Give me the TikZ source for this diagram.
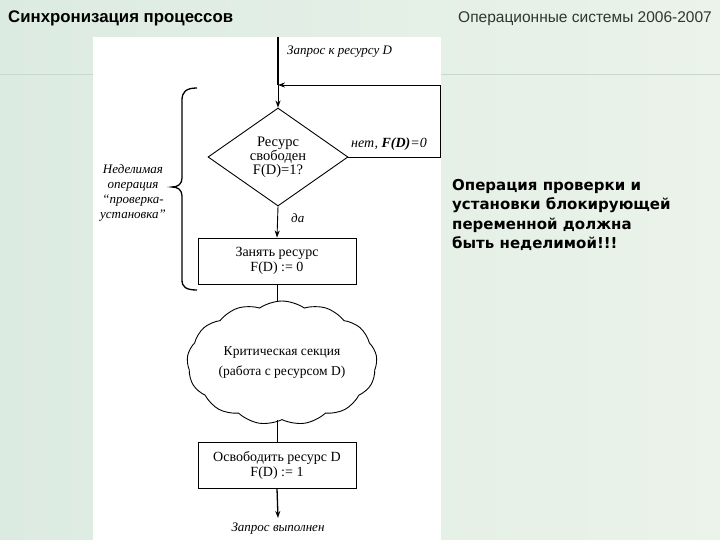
\documentclass[tikz,border=0pt]{standalone}
\usepackage{fontspec}
\setmainfont{Liberation Serif}
\newfontfamily\hdrfont{Liberation Sans}
\newfontfamily\notefont{DejaVu Sans}
\usetikzlibrary{shapes.geometric,shapes.symbols,arrows.meta}
\definecolor{bgA}{HTML}{DCEBE2}
\definecolor{bgB}{HTML}{EBF3EA}
\definecolor{hdrgray}{HTML}{2E382F}
\definecolor{tline}{HTML}{C8D8CE}
\tikzset{
  flow/.style={line width=0.9pt},
  arr/.style={-{Stealth[length=7pt,width=5pt]}},
  boxnode/.style={draw, line width=0.9pt, minimum width=158pt, minimum height=46pt, inner sep=0pt, align=center, font=\fontsize{14}{15}\selectfont},
  lbl/.style={font=\fontsize{13}{15}\selectfont\itshape, inner sep=0pt},
}
\begin{document}
\begin{tikzpicture}[x=1pt,y=-1pt]
\useasboundingbox (0,0) rectangle (720,540);
% background
\shade[left color=bgA, right color=bgB] (0,0) rectangle (720,540);
\draw[tline, line width=1pt] (441,75) -- (720,75);
\draw[tline, line width=1pt] (0,75) -- (93,75);
\fill[white] (93,37) rectangle (441,540);
% headers
\node[anchor=west, inner sep=0pt, font=\hdrfont\bfseries\fontsize{16.8}{18}\selectfont] (title) at (8,18) {Синхронизация процессов};
\node[anchor=east, inner sep=0pt, text=hdrgray, font=\hdrfont\fontsize{15.5}{17}\selectfont] (course) at (712,19) {Операционные системы 2006-2007};
% right note
\node[anchor=north west, inner sep=0pt, align=left, font=\notefont\bfseries\fontsize{15}{19.5}\selectfont] (note) at (452,179) {Операция проверки и\\установки блокирующей\\переменной должна\\быть неделимой!!!};
% flowchart
\coordinate (start) at (278,37);
\coordinate (join) at (278,85);
\node[diamond, draw, line width=0.9pt, minimum width=140pt, minimum height=98pt, inner sep=0pt, aspect=1.43, align=center, font=\fontsize{14.5}{14}\selectfont] (dec) at (278,157) {Ресурс\\свободен\\F(D)=1?};
\coordinate (fb1) at (440,157);
\coordinate (fb2) at (440,85);
\node[boxnode] (take) at (277,261) {Занять ресурс\\F(D) := 0};
\node[cloud, cloud ignores aspect, draw, line width=0.9pt, cloud puffs=13, cloud puff arc=70, minimum width=190pt, minimum height=124pt, inner sep=0pt, align=center, font=\fontsize{13.5}{20}\selectfont] (crit) at (282,363) {Критическая секция\\(работа с ресурсом D)};
\node[boxnode] (rel) at (277,465) {Освободить ресурс D\\F(D) := 1};
\coordinate (done) at (278,518);
% connectors
\draw[line width=1.6pt] (start) -- (join);
\draw[flow, arr] (join) -- (dec.north);
\draw[flow, arr] (dec.east) -- (fb1) -- (fb2) -- (join);
\draw[flow, arr] (dec.south) -- (take.north);
\draw[flow] (take.south) -- (crit.north -| take.south);
\draw[flow] (crit.south -| rel.north) -- (rel.north);
\draw[line width=1.3pt, arr] (rel.south) -- (done);
% labels
\node[lbl, anchor=west] (req) at (287,52) {Запрос к ресурсу D};
\node[lbl, anchor=south west, font=\fontsize{14}{15}\selectfont\itshape] (no) at (351,151) {нет, \textbf{\textit{F}(\textit{D})}=0};
\node[lbl, anchor=west] (yes) at (291,218) {да};
\node[lbl] (ok) at (278,529) {Запрос выполнен};
% brace
\draw[line width=1.3pt] (197,88) .. controls (186,88) and (182,92) .. (182,100) -- (182,178) .. controls (182,184) and (178,187) .. (172,187) .. controls (178,187) and (182,190) .. (182,196) -- (182,280) .. controls (182,287) and (186,290) .. (197,290);
\node[lbl, align=center, font=\fontsize{13}{15.2}\selectfont\itshape] (atomic) at (133,193) {Неделимая\\операция\\“проверка-\\установка”};
\end{tikzpicture}
\end{document}
